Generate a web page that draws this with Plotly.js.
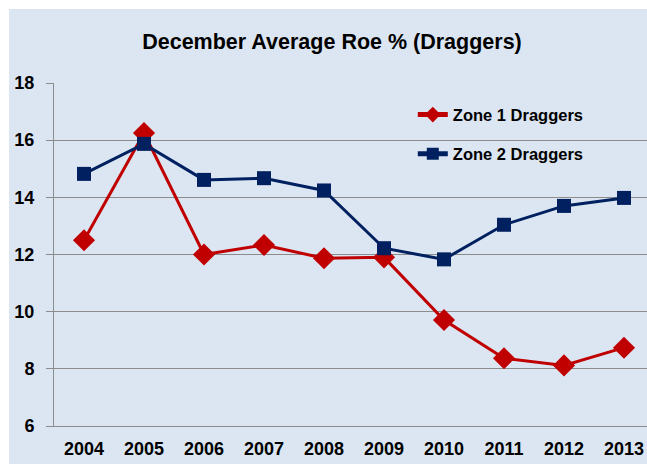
<!DOCTYPE html>
<html>
<head>
<meta charset="utf-8">
<script src="https://cdn.plot.ly/plotly-3.0.1.min.js"></script>
<style>
html,body{margin:0;padding:0;background:#ffffff;overflow:hidden;width:647px;height:464px;}
#chart{position:absolute;left:9px;top:9px;width:660px;height:455px;}
</style>
</head>
<body>
<div id="chart"></div>
<script>
const years = ['2004','2005','2006','2007','2008','2009','2010','2011','2012','2013'];
const zone1 = [12.5, 16.25, 12.0, 12.33, 11.87, 11.9, 9.71, 8.37, 8.12, 8.74];
const zone2 = [14.82, 15.87, 14.61, 14.67, 14.24, 12.22, 11.83, 13.04, 13.7, 13.98];
const yTicks = [6, 8, 10, 12, 14, 16, 18];

const F = 'Liberation Sans, Arial, sans-serif';
const bg = '#DCE6F2';

const traces = [
  {x: years, y: zone1, name: 'Zone 1 Draggers', type: 'scatter', mode: 'lines+markers',
   line: {color: '#C00000', width: 3},
   marker: {symbol: 'diamond', size: 17, color: '#C00000'}, legend: 'legend'},
  {x: years, y: zone2, name: 'Zone 2 Draggers', type: 'scatter', mode: 'lines+markers',
   line: {color: '#002060', width: 3},
   marker: {symbol: 'square', size: 14, color: '#002060'}, legend: 'legend2'}
];

const legendCommon = {bgcolor: 'rgba(0,0,0,0)', borderwidth: 0, xanchor: 'left', yanchor: 'middle',
  font: {family: F, size: 16.5, color: '#000000', weight: 'bold'}, itemsizing: 'constant'};

const layout = {
  width: 660, height: 455,
  paper_bgcolor: bg, plot_bgcolor: bg,
  margin: {l: 45, r: 15, t: 74, b: 38},
  title: {text: 'December Average Roe % (Draggers)', xref: 'container', x: 323/660, xanchor: 'center',
          yref: 'container', y: 1 - 32/455, yanchor: 'middle',
          font: {family: F, size: 21.5, color: '#000000', weight: 'bold'}},
  xaxis: {type: 'category', range: [-0.5, 9.5], showgrid: false, showline: true, linecolor: '#8C8C8C', linewidth: 1,
          ticks: '', tickfont: {family: F, size: 18, color: '#000000', weight: 'bold'}, ticklabelstandoff: 6,
          zeroline: false},
  yaxis: {range: [6, 18], tickvals: yTicks, ticktext: yTicks.map(String), showgrid: true, gridcolor: '#8C8C8C', gridwidth: 1,
          showline: true, linecolor: '#8C8C8C', linewidth: 1, ticks: 'outside', ticklen: 7, tickcolor: '#8C8C8C',
          tickfont: {family: F, size: 18, color: '#000000', weight: 'bold'}, ticklabelstandoff: 8, zeroline: false},
  showlegend: true,
  legend: Object.assign({x: 0.598, y: 0.907}, legendCommon),
  legend2: Object.assign({x: 0.598, y: 0.793}, legendCommon)
};

Plotly.newPlot('chart', traces, layout, {displayModeBar: false, staticPlot: true});
</script>
</body>
</html>
